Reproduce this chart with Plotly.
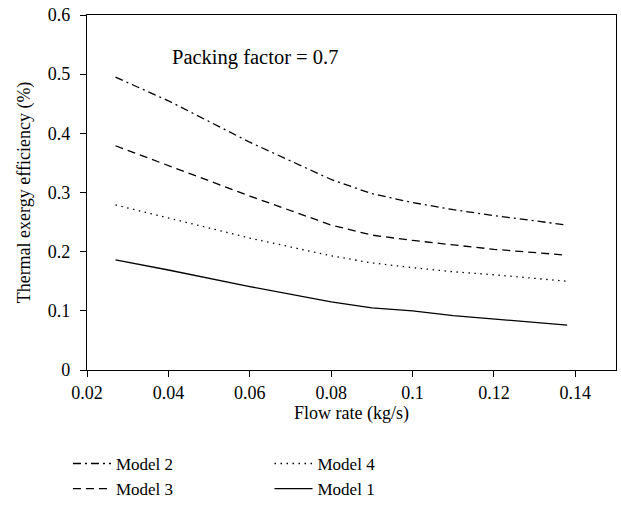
import plotly.graph_objects as go

flow = [0.027, 0.04, 0.06, 0.08, 0.09, 0.1, 0.11, 0.12, 0.138]
model2 = [0.495, 0.455, 0.385, 0.322, 0.298, 0.283, 0.271, 0.261, 0.245]
model3 = [0.379, 0.346, 0.294, 0.245, 0.228, 0.219, 0.211, 0.204, 0.194]
model4 = [0.279, 0.257, 0.223, 0.193, 0.181, 0.173, 0.166, 0.161, 0.150]
model1 = [0.186, 0.169, 0.141, 0.115, 0.105, 0.100, 0.092, 0.086, 0.076]

FONT = "Liberation Serif"
fig = go.Figure()
series = [
    ("Model 2", model2, "8px,4px,2px,4px", "legend"),
    ("Model 3", model3, "8px,5px", "legend"),
    ("Model 4", model4, "1.5px,4.5px", "legend2"),
    ("Model 1", model1, "solid", "legend2"),
]
for name, ys, dash, lg in series:
    fig.add_trace(go.Scatter(x=flow, y=ys, mode="lines", name=name,
                             line=dict(color="black", width=1.3, dash=dash),
                             legend=lg))

fig.add_annotation(x=0.0405, y=0.529, xref="x", yref="y", text="Packing factor = 0.7",
                   showarrow=False, xanchor="left", yanchor="middle",
                   font=dict(family=FONT, size=20.5, color="black"))

fig.update_layout(
    width=621, height=506,
    margin=dict(l=87, r=5, t=15, b=136, autoexpand=False),
    paper_bgcolor="white", plot_bgcolor="white",
    font=dict(family=FONT, size=18, color="black"),
    legend=dict(x=-0.036, y=-0.214, xanchor="left", yanchor="top",
                bgcolor="rgba(0,0,0,0)", tracegroupgap=0, itemwidth=38,
                font=dict(family=FONT, size=17)),
    legend2=dict(x=0.345, y=-0.214, xanchor="left", yanchor="top",
                 bgcolor="rgba(0,0,0,0)", tracegroupgap=0, itemwidth=38,
                 font=dict(family=FONT, size=17)),
    showlegend=True,
)
fig.update_xaxes(range=[0.02, 0.15], tickvals=[0.02, 0.04, 0.06, 0.08, 0.1, 0.12, 0.14],
                 ticktext=["0.02", "0.04", "0.06", "0.08", "0.1", "0.12", "0.14"],
                 ticks="outside", ticklen=6, tickwidth=1.3, tickcolor="black",
                 showline=True, linecolor="black", linewidth=1.3, mirror=True,
                 showgrid=False, zeroline=False, automargin=False,
                 title=dict(text="Flow rate (kg/s)", standoff=2,
                            font=dict(family=FONT, size=18)))
fig.update_yaxes(range=[0, 0.6], tickvals=[0, 0.1, 0.2, 0.3, 0.4, 0.5, 0.6],
                 ticktext=["0", "0.1", "0.2", "0.3", "0.4", "0.5", "0.6"],
                 ticks="outside", ticklen=6, tickwidth=1.3, tickcolor="black",
                 showline=True, linecolor="black", linewidth=1.3, mirror=True,
                 showgrid=False, zeroline=False, automargin=False,
                 ticklabelstandoff=6,
                 title=dict(text="Thermal exergy efficiency (%)", standoff=12,
                            font=dict(family=FONT, size=18)))
fig.write_html("out.html")
